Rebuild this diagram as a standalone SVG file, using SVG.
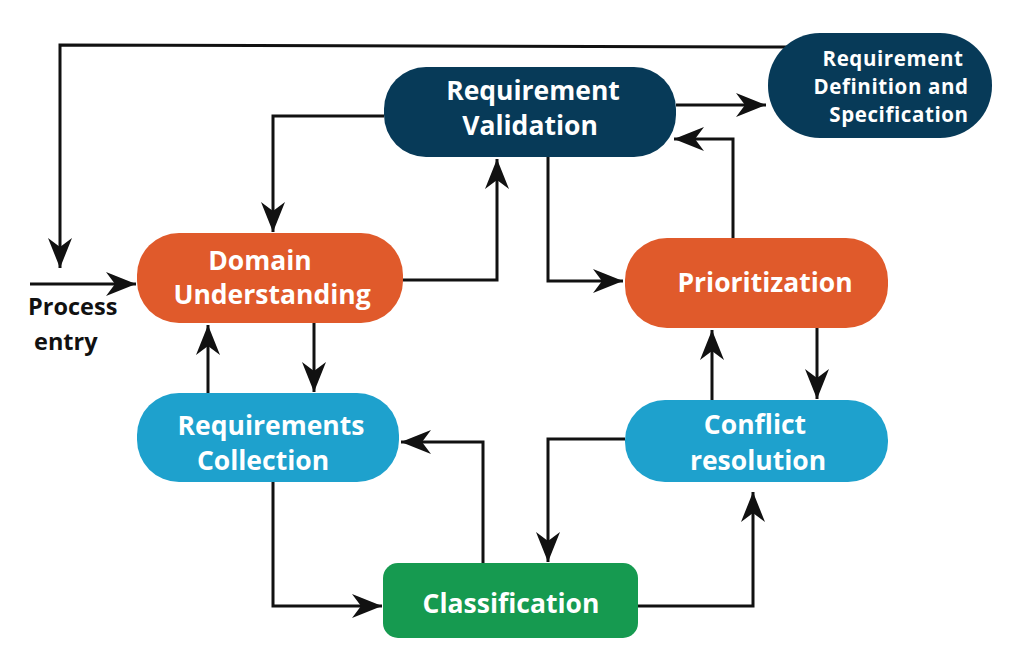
<svg xmlns="http://www.w3.org/2000/svg" width="1033" height="665" viewBox="0 0 1033 665">
<style>
.lbl{font-family:"Open Sans","Liberation Sans",sans-serif;font-weight:700;fill:#fff;text-anchor:middle}
.big{font-size:26.5px}
.sm{font-size:20.5px;letter-spacing:0.6px}
.blk{font-family:"Open Sans","Liberation Sans",sans-serif;font-weight:700;fill:#111;font-size:23.5px}
.c{fill:none;stroke:#111;stroke-width:3;marker-end:url(#ah)}
.navy{fill:#073a58}.orange{fill:#e05a2b}.blue{fill:#1ea1cd}.green{fill:#169a50}
</style>
<defs>
<marker id="ah" markerUnits="userSpaceOnUse" viewBox="-31 -13 32 26" refX="0" refY="0" markerWidth="32" markerHeight="26" orient="auto">
<path d="M0,0 L-30,-12 L-21,0 L-30,12 Z" fill="#111"/>
</marker>
</defs>
<rect width="1033" height="665" fill="#fff"/>
<g id="connectors">
<polyline class="c" points="790,47 60,45 60,268"/>
<polyline class="c" points="30,284 136,284"/>
<polyline class="c" points="384,116 273,116 273,232"/>
<polyline class="c" points="403,280 497,280 497,159"/>
<polyline class="c" points="548,157 548,281 623,281"/>
<polyline class="c" points="676,105 766,105"/>
<polyline class="c" points="733,238 733,139 674,139"/>
<polyline class="c" points="817,328 817,399"/>
<polyline class="c" points="712,400 712,330"/>
<polyline class="c" points="314,323 314,392"/>
<polyline class="c" points="208,393 208,325"/>
<polyline class="c" points="625,439 548,439 548,562"/>
<polyline class="c" points="483,563 483,442 401,442"/>
<polyline class="c" points="273,482 273,606 382,606"/>
<polyline class="c" points="638,606 753,606 753,492"/>
</g>
<g id="req-validation">
<rect class="navy" x="384" y="67" width="292" height="90" rx="42"/>
<text class="lbl big" x="533" y="100">Requirement</text>
<text class="lbl big" x="530" y="135">Validation</text>
</g>
<g id="req-definition">
<rect class="navy" x="768" y="33" width="224" height="105" rx="52"/>
<text class="lbl sm" x="893" y="66">Requirement</text>
<text class="lbl sm" x="891" y="94">Definition and</text>
<text class="lbl sm" x="899" y="122">Specification</text>
</g>
<g id="domain">
<rect class="orange" x="137" y="233" width="266" height="90" rx="42"/>
<text class="lbl big" x="260" y="270">Domain</text>
<text class="lbl big" x="272" y="304">Understanding</text>
</g>
<g id="prioritization">
<rect class="orange" x="625" y="238" width="263" height="90" rx="42"/>
<text class="lbl big" x="765" y="292">Prioritization</text>
</g>
<g id="req-collection">
<rect class="blue" x="137" y="393" width="262" height="89" rx="42"/>
<text class="lbl big" x="271" y="435">Requirements</text>
<text class="lbl big" x="263" y="470">Collection</text>
</g>
<g id="conflict">
<rect class="blue" x="625" y="400" width="263" height="82" rx="40"/>
<text class="lbl big" x="755" y="434">Conflict</text>
<text class="lbl big" x="758" y="470">resolution</text>
</g>
<g id="classification">
<rect class="green" x="383" y="563" width="255" height="75" rx="15"/>
<text class="lbl big" x="511" y="613">Classification</text>
</g>
<g id="process-entry">
<text class="blk" x="28" y="315">Process</text>
<text class="blk" x="34" y="350">entry</text>
</g>
</svg>
